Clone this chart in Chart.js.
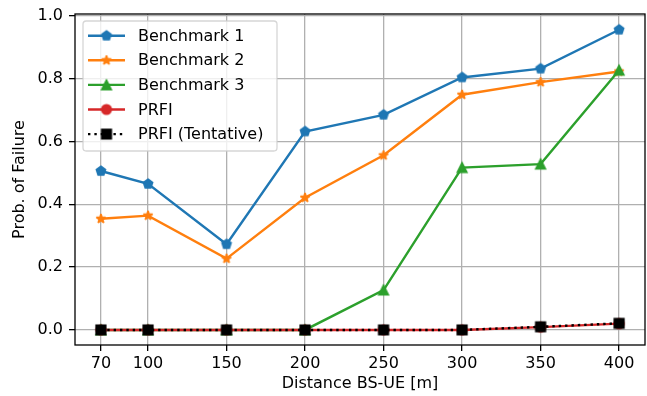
<!DOCTYPE html>
<html>
<head>
<meta charset="utf-8">
<script src="https://cdn.jsdelivr.net/npm/chart.js@4.4.0/dist/chart.umd.min.js"></script>
<style>
    html, body { margin: 0; padding: 0; background: #fff; }
    #wrap { width: 647px; height: 396px; }
</style>
</head>
<body>
<div id="wrap"><canvas id="chart"></canvas></div>
<script>
// values
const distances = [70, 100, 150, 200, 250, 300, 350, 400]
const benchmark1 = [0.506, 0.465, 0.273, 0.632, 0.685, 0.804, 0.832, 0.956]
const benchmark2 = [0.354, 0.364, 0.227, 0.421, 0.556, 0.749, 0.789, 0.823]
const benchmark3 = [0, 0, 0, 0, 0.127, 0.517, 0.528, 0.827]
const prfi = [0, 0, 0, 0, 0, 0, 0.009, 0.02]
const prfiTentative = [0, 0, 0, 0, 0, 0, 0.01, 0.021]
const seriesLabels = ['Benchmark 1', 'Benchmark 2', 'Benchmark 3', 'PRFI', 'PRFI (Tentative)']
const xTicks = [70, 100, 150, 200, 250, 300, 350, 400]
const yTicks = [0, 0.2, 0.4, 0.6, 0.8, 1.0]

const FONT = 'DejaVu Sans'
const colors = ['#1f77b4', '#ff7f0e', '#2ca02c', '#d62728', '#000000']
const shapes = ['pentagon', 'star', 'triangle', 'circle', 'square']
const series = [benchmark1, benchmark2, benchmark3, prfi, prfiTentative]

// matplotlib-like markers as little canvases
const marker = (shape, color) => {
    const c = document.createElement('canvas')
    c.width = 16
    c.height = 16
    const g = c.getContext('2d')
    const r = 4.8
    g.translate(8, 8)
    g.beginPath()
    if (shape === 'pentagon') {
        for (let i = 0; i < 5; i++) {
            const a = -Math.PI / 2 + i * 2 * Math.PI / 5
            g.lineTo(Math.cos(a) * r, Math.sin(a) * r)
        }
    } else if (shape === 'star') {
        for (let i = 0; i < 10; i++) {
            const a = -Math.PI / 2 + i * Math.PI / 5
            const rr = i % 2 ? r * 0.381966 : r
            g.lineTo(Math.cos(a) * rr, Math.sin(a) * rr)
        }
    } else if (shape === 'triangle') {
        g.moveTo(0, -r)
        g.lineTo(-r, r)
        g.lineTo(r, r)
    } else if (shape === 'circle') {
        g.arc(0, 0, r, 0, Math.PI * 2)
    } else {
        g.rect(-r, -r, 2 * r, 2 * r)
    }
    g.closePath()
    g.fillStyle = color
    g.fill()
    g.lineWidth = 1.6
    g.lineJoin = shape === 'star' ? 'bevel' : 'miter'
    g.strokeStyle = color
    g.stroke()
    return c
}

const markers = shapes.map((s, i) => marker(s, colors[i]))

const datasets = series.map((vals, i) => {
    return {
        label: seriesLabels[i],
        data: distances.map((x, j) => ({ x: x, y: vals[j] })),
        borderColor: colors[i],
        backgroundColor: colors[i],
        borderWidth: 2.4,
        borderDash: i === 4 ? [2.4, 3.96] : [],
        pointStyle: markers[i],
        pointRadius: 5,
        order: 4 - i,
        fill: false,
    }
})

const frameAndLegend = {
    id: 'frameAndLegend',
    afterDatasetsDraw(chart) {
        const { ctx, chartArea: a } = chart
        ctx.save()
        ctx.strokeStyle = '#000'
        ctx.lineWidth = 1.3
        ctx.strokeRect(a.left, a.top, a.right - a.left, a.bottom - a.top)

        // legend box
        const bx = a.left + 8, by = a.top + 7, bw = 194, bh = 130, rad = 3.2
        ctx.beginPath()
        ctx.roundRect(bx, by, bw, bh, rad)
        ctx.fillStyle = 'rgba(255,255,255,0.8)'
        ctx.fill()
        ctx.lineWidth = 1.3
        ctx.strokeStyle = 'rgba(204,204,204,0.8)'
        ctx.stroke()

        ctx.font = '16px "' + FONT + '"'
        ctx.textBaseline = 'middle'
        ctx.textAlign = 'left'
        seriesLabels.forEach((label, i) => {
            const y = by + 14.7 + i * 24.6
            const x0 = bx + 5, x1 = bx + 42
            ctx.beginPath()
            ctx.setLineDash(i === 4 ? [2.4, 3.96] : [])
            ctx.strokeStyle = colors[i]
            ctx.lineWidth = 2.4
            ctx.moveTo(x0, y)
            ctx.lineTo(x1, y)
            ctx.stroke()
            ctx.setLineDash([])
            const m = markers[i]
            ctx.drawImage(m, (x0 + x1) / 2 - m.width / 2, y - m.height / 2)
            ctx.fillStyle = '#000'
            ctx.fillText(label, bx + 55, y + 1)
        })
        ctx.restore()
    }
}

new Chart(document.getElementById('chart'), {
    type: 'line',
    data: { datasets: datasets },
    options: {
        responsive: true,
        maintainAspectRatio: false,
        animation: false,
        layout: { autoPadding: false, padding: { top: 14, right: 2, left: 0, bottom: 0 } },
        plugins: {
            legend: { display: false },
            tooltip: { enabled: false },
        },
        scales: {
            x: {
                type: 'linear',
                min: 53.5,
                max: 416.5,
                afterBuildTicks: (s) => { s.ticks = xTicks.map(v => ({ value: v })) },
                afterFit: (s) => {
                    s.height = 51
                    s.paddingLeft = 0
                    s.paddingRight = 0
                },
                border: { display: false },
                grid: { color: '#b0b0b0', lineWidth: 1.3, tickColor: '#000', tickLength: 6, tickWidth: 1.3 },
                ticks: {
                    color: '#000',
                    font: { family: FONT, size: 16 },
                    padding: 3,
                    maxRotation: 0,
                    autoSkip: false,
                    callback: (v) => String(v),
                },
                title: {
                    display: true,
                    text: 'Distance BS-UE [m]',
                    color: '#000',
                    font: { family: FONT, size: 16 },
                    padding: { top: 0, bottom: 3 },
                },
            },
            y: {
                type: 'linear',
                min: -0.048,
                max: 1.006,
                afterBuildTicks: (s) => { s.ticks = yTicks.map(v => ({ value: v })) },
                afterFit: (s) => {
                    s.width = 75
                    s.paddingTop = 0
                    s.paddingBottom = 0
                },
                border: { display: false },
                grid: { color: '#b0b0b0', lineWidth: 1.3, tickColor: '#000', tickLength: 6, tickWidth: 1.3 },
                ticks: {
                    color: '#000',
                    font: { family: FONT, size: 16 },
                    padding: 6,
                    autoSkip: false,
                    callback: (v) => v.toFixed(1),
                },
                title: {
                    display: true,
                    text: 'Prob. of Failure',
                    color: '#000',
                    font: { family: FONT, size: 16 },
                    padding: { top: 10, bottom: 0 },
                },
            },
        },
    },
    plugins: [frameAndLegend],
})
</script>
</body>
</html>
